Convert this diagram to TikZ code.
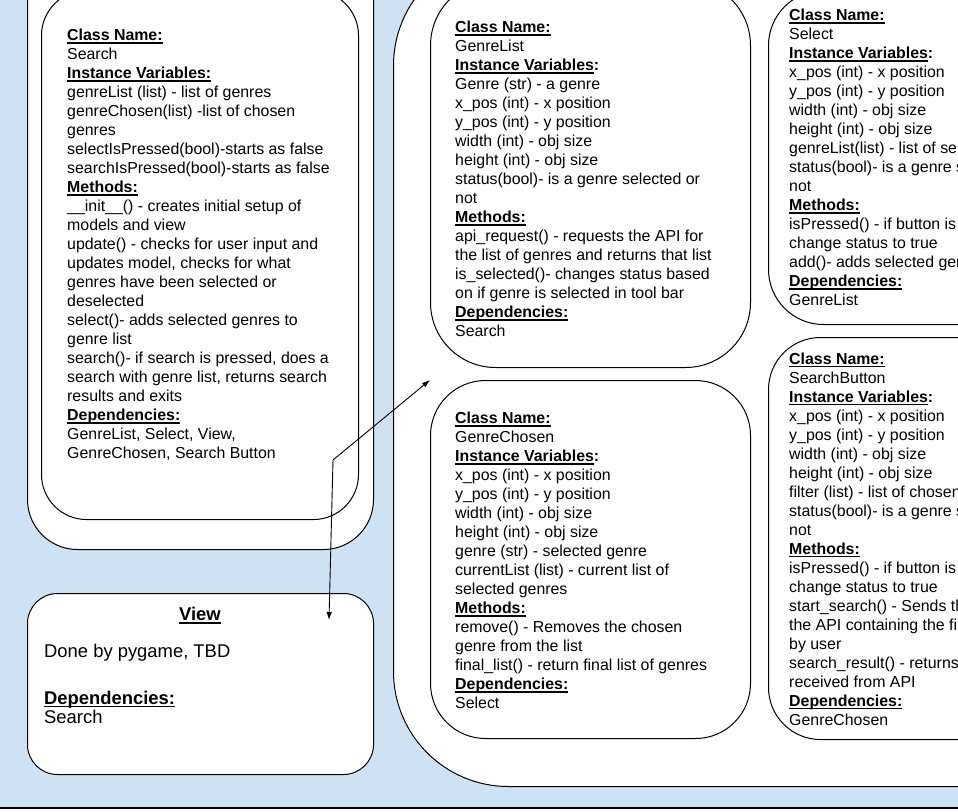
\documentclass[tikz,border=0pt]{standalone}
\usepackage{fontspec}
\setmainfont{Liberation Sans}
\usetikzlibrary{arrows.meta}
\definecolor{bgblue}{HTML}{CFE2F3}
\newcommand\myul[1]{\setbox0=\hbox{#1}\rlap{\rule[-2.7pt]{\wd0}{1.3pt}}\box0}
\newcommand\bigul[1]{\setbox0=\hbox{#1}\rlap{\rule[-3.1pt]{\wd0}{1.5pt}}\box0}
\newcommand\hd[1]{\myul{\textbf{#1}}}
\newcommand\hdiv{\myul{\textbf{Instance Variables}}\textbf{:}}
\begin{document}
\begin{tikzpicture}[x=1pt,y=-1pt,
  box/.style={draw=black, line width=1pt, fill=white, rectangle, inner sep=0pt, anchor=north west},
  txt/.style={inner sep=0pt, anchor=north west, align=left, font=\fontsize{15.9}{19}\selectfont},
  vtxt/.style={inner sep=0pt, align=left, font=\fontsize{18.4}{19.6}\selectfont},
  conn/.style={draw=black, line width=0.9pt, arrows={Latex[length=8pt,width=5.5pt]-Latex[length=8pt,width=5.5pt]}}]
\useasboundingbox (0,0) rectangle (958,811);
\fill[bgblue] (0,0) rectangle (958,808);
\fill[white] (0,808) rectangle (958,811);
% left column
\node[box, rounded corners=50pt, minimum width=346pt, minimum height=609pt] (searchout) at (27,-60) {};
\node[box, rounded corners=45pt, minimum width=317pt, minimum height=529pt] (searchin) at (41,-10) {};
\node[box, rounded corners=30pt, minimum width=346pt, minimum height=181pt] (view) at (27,593) {};
% middle container
\node[box, rounded corners=115pt, minimum width=757pt, minimum height=836pt] (mid) at (393,-50) {};
\node[box, rounded corners=65pt, minimum width=320pt, minimum height=387pt] (gl) at (430,-20) {};
\node[box, rounded corners=55pt, minimum width=320pt, minimum height=358pt] (gc) at (430,380) {};
\node[box, rounded corners=55pt, minimum width=382pt, minimum height=334pt] (sel) at (768,-10) {};
\node[box, rounded corners=52pt, minimum width=382pt, minimum height=402pt] (sb) at (768,337) {};
\draw[line width=1.3pt] (0,808) -- (958,808);
% texts
\node[txt] (searchtxt) at (67,29.1) {\hd{Class Name:}\\Search\\\hd{Instance Variables:}\\
genreList (list) - list of genres\\genreChosen(list) -list of chosen\\genres\\
selectIsPressed(bool)-starts as false\\searchIsPressed(bool)-starts as false\\
\hd{Methods:}\\\_\_init\_\_() - creates initial setup of\\models and view\\
update() - checks for user input and\\updates model, checks for what\\
genres have been selected or\\deselected\\select()- adds selected genres to\\
genre list\\search()- if search is pressed, does a\\search with genre list, returns search\\
results and exits\\\hd{Dependencies:}\\GenreList, Select, View,\\GenreChosen, Search Button};
\node[txt] (gltxt) at (455,21.1) {\hd{Class Name:}\\GenreList\\\hdiv\\Genre (str) - a genre\\
x\_pos (int) - x position\\y\_pos (int) - y position\\width (int) - obj size\\
height (int) - obj size\\status(bool)- is a genre selected or\\not\\\hd{Methods:}\\
api\_request() - requests the API for\\the list of genres and returns that list\\
is\_selected()- changes status based\\on if genre is selected in tool bar\\
\hd{Dependencies:}\\Search};
\node[txt] (gctxt) at (455,412.1) {\hd{Class Name:}\\GenreChosen\\\hdiv\\
x\_pos (int) - x position\\y\_pos (int) - y position\\width (int) - obj size\\
height (int) - obj size\\genre (str) - selected genre\\currentList (list) - current list of\\
selected genres\\\hd{Methods:}\\remove() - Removes the chosen\\genre from the list\\
final\_list() - return final list of genres\\\hd{Dependencies:}\\Select};
\node[txt] (seltxt) at (789,9.1) {\hd{Class Name:}\\Select\\\hdiv\\
x\_pos (int) - x position\\y\_pos (int) - y position\\width (int) - obj size\\
height (int) - obj size\\genreList(list) - list of selected genres\\status(bool)- is a genre selected or\\
not\\\hd{Methods:}\\isPressed() - if button is pressed,\\change status to true\\
add()- adds selected genre\\\hd{Dependencies:}\\GenreList};
\node[txt] (sbtxt) at (789,353) {\hd{Class Name:}\\SearchButton\\\hdiv\\
x\_pos (int) - x position\\y\_pos (int) - y position\\width (int) - obj size\\
height (int) - obj size\\filter (list) - list of chosen genres\\status(bool)- is a genre selected or\\
not\\\hd{Methods:}\\isPressed() - if button is pressed,\\change status to true\\
start\_search() - Sends the request to\\the API containing the filter chosen\\by user\\
search\_result() - returns results\\received from API\\\hd{Dependencies:}\\GenreChosen};
\node[vtxt, anchor=base] (viewtitle) at (200,620.7) {\bigul{\textbf{View}}};
\node[vtxt, anchor=base west] (viewbody) at (44,657.7) {Done by pygame, TBD};
\node[vtxt, anchor=north west] (viewdep) at (44,690.6) {\bigul{\textbf{Dependencies:}}\\Search};
% connector
\coordinate (j) at (333,460);
\coordinate (vend) at (329,620);
\draw[conn] (gc.north west) -- (j) -- (vend);
\end{tikzpicture}
\end{document}
